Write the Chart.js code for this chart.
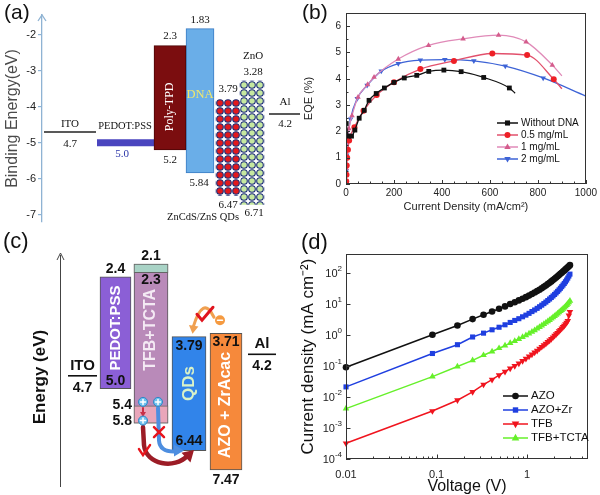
<!DOCTYPE html>
<html>
<head>
<meta charset="utf-8">
<title>Device energy levels, EQE and J-V</title>
<script src="https://cdn.jsdelivr.net/npm/chart.js@4.4.0/dist/chart.umd.min.js"></script>
<style>
html, body { margin: 0; padding: 0; background: #fff; }
#fig { position: relative; width: 600px; height: 495px; overflow: hidden; background: #fff; }
#fig canvas { position: absolute; }
</style>
</head>
<body>
<div id="fig">
  <canvas id="chartA" width="300" height="240" style="left:0;top:0"></canvas>
  <canvas id="chartB" width="300" height="240" style="left:300px;top:0"></canvas>
  <canvas id="chartC" width="300" height="270" style="left:0;top:225px"></canvas>
  <canvas id="chartD" width="300" height="270" style="left:300px;top:225px"></canvas>
</div>
<script>
var SANS = "'Liberation Sans', Arial, sans-serif";
var SERIF = "'Liberation Serif', 'Times New Roman', serif";
Chart.defaults.font.family = SANS;
Chart.defaults.color = '#222';

// (a) binding energies (eV)
var aBarNames = ['Poly-TPD', 'DNA', 'ZnCdS/ZnS QDs', 'ZnO'];
var aBarLumo = [2.3, 1.83, 3.79, 3.28];
var aBarHomo = [5.2, 5.84, 6.47, 6.71];
var aLineNames = ['ITO', 'PEDOT:PSS', 'Al'];
var aLineLevel = [4.7, 5.0, 4.2];

// (b) EQE (%) vs current density (mA/cm2)
var bNames = ['Without DNA', '0.5 mg/mL', '1 mg/mL', '2 mg/mL'];
var bNoDnaX = [1, 10, 23, 37, 55, 76, 96, 126, 160, 200, 243, 295, 345, 408, 480, 574, 681, 705];
var bNoDnaY = [2.3, 1.82, 1.82, 2.05, 2.5, 2.8, 3.18, 3.44, 3.65, 3.86, 4.03, 4.13, 4.28, 4.33, 4.27, 4.05, 3.65, 3.45];
var bHalfX = [1, 2, 3, 5, 8, 13, 35, 73, 128, 200, 310, 450, 610, 755, 866, 900];
var bHalfY = [0.1, 0.35, 0.7, 1.0, 1.3, 1.65, 2.16, 2.78, 3.38, 3.87, 4.37, 4.68, 4.96, 4.9, 3.98, 3.62];
var bOneX = [1, 3, 6, 12, 25, 50, 90, 117, 218, 344, 488, 636, 751, 860, 900];
var bOneY = [0.6, 1.3, 1.7, 2.1, 2.6, 3.3, 3.78, 4.06, 4.75, 5.27, 5.52, 5.66, 5.4, 4.52, 4.11];
var bTwoX = [1, 3, 6, 19, 47, 88, 147, 218, 310, 412, 533, 664, 822, 1000];
var bTwoY = [0.5, 1.1, 1.6, 2.47, 3.25, 3.75, 4.29, 4.58, 4.71, 4.73, 4.68, 4.48, 4.03, 3.34];

// (c) energy levels (eV)
var cBarNames = ['PEDOT:PSS', 'TFB+TCTA', 'QDs', 'AZO + ZrAcac'];
var cBarLumo = [2.4, 2.1, 3.79, 3.71];
var cBarHomo = [5.0, 5.8, 6.44, 7.47];
var cBlendLumo = [2.1, 2.3];
var cBlendHomo = [5.4, 5.8];
var cLineNames = ['ITO', 'Al'];
var cLineLevel = [4.7, 4.2];
var cDrawCut = 6.89; // the source draws the AZO bar cut short of 7.47

// (d) current density (mA cm-2) vs voltage (V)
var dNames = ['AZO', 'AZO+Zr', 'TFB', 'TFB+TCTA'];
var dVoltage = [0.01, 0.09, 0.17, 0.25, 0.33, 0.41, 0.49, 0.57, 0.65, 0.73, 0.81, 0.89, 0.97, 1.05, 1.13, 1.21, 1.29, 1.37, 1.45, 1.53,
  1.61, 1.69, 1.77, 1.85, 1.93, 2.01, 2.09, 2.17, 2.25, 2.33, 2.41, 2.49, 2.57, 2.65, 2.73, 2.81, 2.89, 2.97];
var dAzo = [0.09, 1.0, 2.0, 3.2, 4.4, 5.6, 6.9, 8.2, 9.8, 11.2, 12.8, 14.5, 16.3, 18.3, 20.5, 23, 25.5, 28.3, 31.5, 35,
  38.8, 43, 47.5, 52.5, 58, 64, 70, 77, 84, 92, 100, 109, 118, 128, 139, 150, 162, 175];
var dAzoZr = [0.021, 0.25, 0.48, 0.85, 1.13, 1.45, 1.75, 2.1, 2.5, 2.9, 3.3, 3.8, 4.3, 4.9, 5.6, 6.3, 7.1, 8.0, 9.0, 10.1,
  11.3, 12.7, 14.2, 15.9, 17.8, 19.9, 22.3, 25, 28, 31.5, 35.5, 40, 45, 51, 58, 67, 78, 90];
var dTfb = [0.00032, 0.0035, 0.0078, 0.0145, 0.025, 0.036, 0.05, 0.065, 0.083, 0.10, 0.12, 0.145, 0.17, 0.2, 0.235, 0.27, 0.31, 0.36, 0.41, 0.46,
  0.52, 0.59, 0.66, 0.74, 0.83, 0.93, 1.04, 1.16, 1.3, 1.45, 1.6, 1.78, 1.97, 2.2, 2.45, 2.8, 4.2, 5.5];
var dTfbTcta = [0.0042, 0.045, 0.095, 0.15, 0.22, 0.29, 0.37, 0.45, 0.54, 0.63, 0.73, 0.84, 0.96, 1.1, 1.25, 1.4, 1.58, 1.77, 1.98, 2.2,
  2.45, 2.72, 3.0, 3.3, 3.65, 4.0, 4.4, 4.8, 5.3, 5.8, 6.3, 6.9, 7.5, 8.2, 9.0, 9.9, 11, 12.5];
var dExponents = [-4, -3, -2, -1, 0, 1, 2];

// horizontal slots of the level diagrams (pixels)
var aBarSlot = [[154, 186], [186, 214], [216, 240], [240, 264]];
var aLineSlot = [[44, 96], [97, 154], [269, 300]];
var cBarSlot = [[100, 131], [134, 168], [172, 206], [210, 242]];
var cLineSlot = [[68, 97], [248, 276]];

function txt(ctx, s, x, y, font, color, align) {
  ctx.font = font;
  ctx.fillStyle = color || '#111';
  ctx.textAlign = align || 'center';
  ctx.textBaseline = 'middle';
  ctx.fillText(s, x, y);
}
function vtxt(ctx, s, x, y, font, color) {
  ctx.save();
  ctx.translate(x, y);
  ctx.rotate(-Math.PI / 2);
  txt(ctx, s, 0, 0, font, color);
  ctx.restore();
}
function mark(ctx, style, x, y, r, color, rot) {
  ctx.save();
  ctx.translate(x, y);
  ctx.rotate((rot || 0) * Math.PI / 180);
  ctx.fillStyle = color;
  ctx.beginPath();
  if (style === 'rect') ctx.rect(-r * 0.75, -r * 0.75, r * 1.5, r * 1.5);
  else if (style === 'triangle') { ctx.moveTo(0, -r * 1.1); ctx.lineTo(r, r * 0.65); ctx.lineTo(-r, r * 0.65); ctx.closePath(); }
  else ctx.arc(0, 0, r, 0, Math.PI * 2);
  ctx.fill();
  ctx.restore();
}
function legend(ctx, sets, radii, x0, x1, xt, rows, font) {
  sets.forEach(function (ds, i) {
    var y = rows[i];
    ctx.strokeStyle = ds.borderColor;
    ctx.lineWidth = 1.5;
    ctx.beginPath(); ctx.moveTo(x0, y); ctx.lineTo(x1, y); ctx.stroke();
    mark(ctx, ds.pointStyle, (x0 + x1) / 2, y, radii[i], ds.pointBackgroundColor, ds.pointRotation);
    txt(ctx, ds.label, xt, y, font, '#111', 'left');
  });
}
function arrowHead(ctx, x, y, ang, size, color) {
  ctx.save();
  ctx.translate(x, y);
  ctx.rotate(ang);
  ctx.beginPath();
  ctx.moveTo(0, 0); ctx.lineTo(-size, -size * 0.6); ctx.lineTo(-size, size * 0.6); ctx.closePath();
  ctx.fillStyle = color; ctx.fill();
  ctx.restore();
}
function dots(ctx, fill) {
  var s = 8, c = document.createElement('canvas');
  c.width = s; c.height = s;
  var g = c.getContext('2d');
  g.fillStyle = '#ffffff'; g.fillRect(0, 0, s, s);
  g.beginPath(); g.arc(s / 2, s / 2, 3.3, 0, Math.PI * 2);
  g.fillStyle = fill; g.fill();
  g.lineWidth = 1.1; g.strokeStyle = '#1d2f78'; g.stroke();
  return ctx.createPattern(c, 'repeat');
}
function logKind(v) {
  var e = Math.floor(Math.log10(v) + 1e-9), m = v / Math.pow(10, e);
  if (Math.abs(m - 1) < 1e-6) return 2;
  return Math.abs(m - Math.round(m)) < 1e-6 ? 1 : 0;
}
var baseOpts = { responsive: false, animation: false, devicePixelRatio: 1, events: [] };
function opts(extra) { return Object.assign({}, baseOpts, extra); }

// ---------------- (a) ----------------
var ctxA = document.getElementById('chartA').getContext('2d');
var aDots = [dots(ctxA, '#e3191c'), dots(ctxA, '#c6e8a0')];
var aFill = ['#7b0d0f', '#6aaee8', aDots[0], aDots[1]];
var aEdge = ['#4d0607', '#3b7cc4', null, null];
var aSets = aBarNames.map(function (n, i) {
  var s = aBarSlot[i];
  return {
    type: 'bar', label: n, grouped: false, borderSkipped: false,
    data: [{ x: (s[0] + s[1]) / 2, y: [-aBarLumo[i], -aBarHomo[i]] }],
    barThickness: s[1] - s[0], backgroundColor: aFill[i],
    borderColor: aEdge[i] || 'rgba(0,0,0,0)', borderWidth: aEdge[i] ? 1 : 0
  };
});
aLineNames.forEach(function (n, i) {
  var s = aLineSlot[i];
  aSets.push({
    type: 'line', label: n, pointRadius: 0,
    data: [{ x: s[0], y: -aLineLevel[i] }, { x: s[1], y: -aLineLevel[i] }],
    borderColor: i === 1 ? '#4a45bf' : '#222', borderWidth: i === 1 ? 7 : 1.5
  });
});

var aPlugin = {
  id: 'aDecor',
  beforeDatasetsDraw: function (chart) {
    var ys = chart.scales.y;
    aDots.forEach(function (p, k) {
      var top = Math.round(ys.getPixelForValue(-aBarLumo[k + 2]));
      p.setTransform(new DOMMatrix([1, 0, 0, 1, 0, top]));
    });
  },
  afterDraw: function (chart) {
    var ctx = chart.ctx, ys = chart.scales.y, xs = chart.scales.x, a = chart.chartArea;
    var Y = function (v) { return ys.getPixelForValue(-v); };
    var X = function (v) { return xs.getPixelForValue(v); };
    var f = '11px ' + SERIF;
    ctx.save();
    // arrow head on the energy axis
    ctx.strokeStyle = '#8fb3d3'; ctx.lineWidth = 1.3;
    ctx.beginPath();
    ctx.moveTo(a.left - 4, a.top + 6); ctx.lineTo(a.left, a.top); ctx.lineTo(a.left + 4, a.top + 6);
    ctx.stroke();
    txt(ctx, 'ITO', X(70), Y(4.7) - 8, f);
    txt(ctx, '4.7', X(70), Y(4.7) + 12, f);
    txt(ctx, 'PEDOT:PSS', X(125), Y(5.0) - 17, '10.5px ' + SERIF);
    txt(ctx, '5.0', X(122), Y(5.0) + 11, f, '#2b35a8');
    txt(ctx, '2.3', X(170), Y(2.3) - 9, f);
    txt(ctx, '5.2', X(170), Y(5.2) + 10, f);
    txt(ctx, '1.83', X(200), Y(1.83) - 9, f);
    txt(ctx, '5.84', X(199), Y(5.84) + 10, f);
    txt(ctx, '3.79', X(228), Y(3.79) - 10, f);
    txt(ctx, '6.47', X(228), Y(6.47) + 9, f);
    txt(ctx, 'ZnO', X(253), Y(3.28) - 25, f);
    txt(ctx, '3.28', X(253), Y(3.28) - 9, f);
    txt(ctx, '6.71', X(254), Y(6.71) + 9, f);
    txt(ctx, 'ZnCdS/ZnS QDs', X(203), Y(6.47) + 22, '10.5px ' + SERIF);
    txt(ctx, 'Al', X(285), Y(4.2) - 12, f);
    txt(ctx, '4.2', X(285), Y(4.2) + 10, f);
    txt(ctx, 'DNA', X(200), Y(3.67), '12.5px ' + SERIF, '#f2e86a');
    vtxt(ctx, 'Poly-TPD', X(170), Y(4.0), '12px ' + SERIF, '#ffffff');
    txt(ctx, '(a)', 4, 13, '21px ' + SANS, '#111', 'left');
    ctx.restore();
  }
};

new Chart(ctxA, {
  type: 'bar',
  data: { datasets: aSets },
  options: opts({
    layout: { padding: { top: 15, bottom: 18, left: 0, right: 0 } },
    plugins: { legend: { display: false }, tooltip: { enabled: false } },
    scales: {
      x: { type: 'linear', display: false, min: 42, max: 300, offset: false },
      y: {
        min: -7.2, max: -1.45,
        afterFit: function (s) { s.width = 42; },
        ticks: { stepSize: 1, includeBounds: false, padding: 2, color: '#222', font: { size: 11 } },
        grid: { drawOnChartArea: false, tickLength: 4, color: '#8fb3d3', lineWidth: 1.2 },
        border: { color: '#8fb3d3', width: 1.3 },
        title: { display: true, text: 'Binding Energy(eV)', color: '#4a4a4a', font: { size: 16 }, padding: { top: 3, bottom: 0 } }
      }
    }
  }),
  plugins: [aPlugin]
});

// ---------------- (b) ----------------
function bSet(label, xs, ys, line, markColor, style, rot, r) {
  return {
    label: label,
    data: xs.map(function (x, i) { return { x: x, y: ys[i] }; }),
    borderColor: line, backgroundColor: markColor,
    pointBackgroundColor: markColor, pointBorderColor: markColor, pointBorderWidth: 0,
    borderWidth: 1.3, pointStyle: style, pointRotation: rot,
    pointRadius: function (c) { return c.dataIndex === xs.length - 1 ? 0 : r; },
    cubicInterpolationMode: 'monotone', fill: false
  };
}
var bSets = [
  bSet(bNames[0], bNoDnaX, bNoDnaY, '#111111', '#111111', 'rect', 0, 3.4),
  bSet(bNames[1], bHalfX, bHalfY, '#e2506c', '#ee2026', 'circle', 0, 3),
  bSet(bNames[2], bOneX, bOneY, '#e08ab8', '#d45c8c', 'triangle', 0, 3.2),
  bSet(bNames[3], bTwoX, bTwoY, '#3d63d6', '#3d63d6', 'triangle', 180, 3.2)
];
var bPlugin = {
  id: 'bDecor',
  afterDraw: function (chart) {
    var ctx = chart.ctx, a = chart.chartArea, xs = chart.scales.x, ys = chart.scales.y;
    ctx.save();
    ctx.strokeStyle = '#333'; ctx.lineWidth = 1;
    ctx.strokeRect(Math.round(a.left) + 0.5, Math.round(a.top) + 0.5, Math.round(a.right - a.left) - 1, Math.round(a.bottom - a.top) - 1);
    ctx.beginPath();
    for (var v = 0; v <= 1000; v += 50) {
      var px = Math.round(xs.getPixelForValue(v)) + 0.5;
      ctx.moveTo(px, a.bottom); ctx.lineTo(px, a.bottom - (v % 200 === 0 ? 4 : 2.5));
    }
    for (var w = 0; w <= 6.5; w += 0.5) {
      var py = Math.round(ys.getPixelForValue(w)) + 0.5;
      ctx.moveTo(a.left, py); ctx.lineTo(a.left + (w % 1 === 0 ? 4 : 2.5), py);
    }
    ctx.stroke();
    legend(ctx, bSets, [3.4, 3, 3.2, 3.2], 197, 218, 221, [123, 135, 147, 159], '10px ' + SANS);
    txt(ctx, '(b)', 2, 13, '21px ' + SANS, '#111', 'left');
    ctx.restore();
  }
};
new Chart(document.getElementById('chartB'), {
  type: 'line',
  data: { datasets: bSets },
  options: opts({
    layout: { padding: { top: 13, right: 12, left: 0, bottom: 0 } },
    plugins: { legend: { display: false }, tooltip: { enabled: false } },
    scales: {
      x: {
        type: 'linear', min: 0, max: 1000,
        afterFit: function (s) { s.height = 56; },
        ticks: { stepSize: 200, padding: 3, maxRotation: 0, font: { size: 10 }, color: '#222',
          callback: function (v) { return String(v); } },
        grid: { display: false, drawTicks: false }, border: { display: false },
        title: { display: true, text: 'Current Density (mA/cm²)', font: { size: 11 }, color: '#222', padding: { top: 0, bottom: 26 } }
      },
      y: {
        min: 0, max: 6.5,
        afterFit: function (s) { s.width = 46; },
        ticks: { stepSize: 1, includeBounds: false, padding: 5, font: { size: 10 }, color: '#222' },
        grid: { display: false, drawTicks: false }, border: { display: false },
        title: { display: true, text: 'EQE (%)', font: { size: 11 }, color: '#222', padding: { top: 2, bottom: 0 } }
      }
    }
  }),
  plugins: [bPlugin]
});

// ---------------- (c) ----------------
var cFill = ['#8b5fd6', '#b98ab9', '#3184ea', '#f6893b'];
var cSets = cBarNames.map(function (n, i) {
  var s = cBarSlot[i];
  return {
    type: 'bar', label: n, order: 2, grouped: false, borderSkipped: false,
    data: [{ x: (s[0] + s[1]) / 2, y: [-cBarLumo[i], -Math.min(cBarHomo[i], cDrawCut)] }],
    barThickness: s[1] - s[0], backgroundColor: cFill[i], borderColor: '#555', borderWidth: 1
  };
});
var tfbSlot = cBarSlot[1];
[[cBlendLumo, '#a9d3c6'], [cBlendHomo, '#e9a6ba']].forEach(function (p) {
  cSets.push({
    type: 'bar', label: 'TFB+TCTA band', order: 1, grouped: false, borderSkipped: false,
    data: [{ x: (tfbSlot[0] + tfbSlot[1]) / 2, y: [-p[0][0], -p[0][1]] }],
    barThickness: tfbSlot[1] - tfbSlot[0], backgroundColor: p[1], borderColor: '#666', borderWidth: 1
  });
});
cLineNames.forEach(function (n, i) {
  var s = cLineSlot[i];
  cSets.push({
    type: 'line', label: n, order: 0, pointRadius: 0, borderColor: '#111', borderWidth: 1.6,
    data: [{ x: s[0], y: -cLineLevel[i] }, { x: s[1], y: -cLineLevel[i] }]
  });
});
var cPlugin = {
  id: 'cDecor',
  afterDraw: function (chart) {
    var ctx = chart.ctx, a = chart.chartArea, xs = chart.scales.x, ys = chart.scales.y;
    var Y = function (v) { return ys.getPixelForValue(-v); };
    var X = function (v) { return xs.getPixelForValue(v); };
    var nb = 'bold 14px ' + SANS;
    ctx.save();
    // energy axis arrow
    ctx.strokeStyle = '#444'; ctx.lineWidth = 1;
    ctx.beginPath(); ctx.moveTo(60.5, a.bottom); ctx.lineTo(60.5, a.top + 2); ctx.stroke();
    ctx.beginPath(); ctx.moveTo(57, a.top + 7); ctx.lineTo(60.5, a.top); ctx.lineTo(64, a.top + 7); ctx.stroke();
    vtxt(ctx, 'Energy (eV)', 40, 152, 'bold 17px ' + SANS, '#111');
    // electrodes
    txt(ctx, 'ITO', X(82.5), Y(4.7) - 10, 'bold 15px ' + SANS);
    txt(ctx, '4.7', X(82.5), Y(4.7) + 12, nb);
    txt(ctx, 'Al', X(262), Y(4.2) - 10, 'bold 15px ' + SANS);
    txt(ctx, '4.2', X(262), Y(4.2) + 12, nb);
    // level values
    txt(ctx, '2.4', X(115.5), Y(2.4) - 8, nb);
    txt(ctx, '5.0', X(115.5), Y(5.0) - 8, nb);
    txt(ctx, '2.1', X(151), Y(2.1) - 8, nb);
    txt(ctx, '2.3', X(151), Y(2.3) + 8, nb);
    txt(ctx, '5.4', X(132), Y(5.4) - 1, nb, '#111', 'right');
    txt(ctx, '5.8', X(132), Y(5.8) - 2, nb, '#111', 'right');
    txt(ctx, '3.79', X(189), Y(3.79) + 9, nb);
    txt(ctx, '6.44', X(189), Y(6.44) - 9, nb);
    txt(ctx, '3.71', X(226), Y(3.71) + 9, nb);
    txt(ctx, '7.47', X(226), Y(cDrawCut) + 10, nb);
    // layer names
    vtxt(ctx, 'PEDOT:PSS', X(115.5), Y(3.59), 'bold 15px ' + SANS, '#ffffff');
    vtxt(ctx, 'TFB+TCTA', X(151), Y(3.63), 'bold 16px ' + SANS, '#f4eaf4');
    vtxt(ctx, 'QDs', X(189), Y(4.88), 'bold 17px ' + SANS, '#d9f2c8');
    vtxt(ctx, 'AZO + ZrAcac', X(226), Y(5.38), 'bold 16px ' + SANS, '#ffffff');
    // hole transport sketch
    var y54 = Y(5.4), y58 = Y(5.8), yq = Y(6.44);
    ctx.lineCap = 'round';
    ctx.strokeStyle = '#4d8ee0'; ctx.lineWidth = 4;
    ctx.beginPath(); ctx.moveTo(158, y54 + 2); ctx.lineTo(159, yq - 10);
    ctx.quadraticCurveTo(160, yq + 1, 174, yq + 1); ctx.stroke();
    arrowHead(ctx, 184, yq, 0, 10, '#4d8ee0');
    ctx.strokeStyle = '#9c1c26'; ctx.lineWidth = 4.5;
    ctx.beginPath(); ctx.moveTo(143, y58 + 4); ctx.lineTo(144, y58 + 22);
    ctx.bezierCurveTo(146, y58 + 42, 175, y58 + 46, 187, y58 + 33); ctx.stroke();
    arrowHead(ctx, 194, y58 + 27, -0.75, 11, '#9c1c26');
    ctx.strokeStyle = '#c83048'; ctx.lineWidth = 2;
    ctx.beginPath(); ctx.moveTo(143, y54 + 2); ctx.lineTo(143, y58 - 9); ctx.stroke();
    arrowHead(ctx, 143, y58 - 6, Math.PI / 2, 5, '#c83048');
    ctx.strokeStyle = '#e8141c'; ctx.lineWidth = 2.5;
    ctx.beginPath();
    ctx.moveTo(154, y58 + 4); ctx.lineTo(164, y58 + 14);
    ctx.moveTo(164, y58 + 4); ctx.lineTo(154, y58 + 14);
    ctx.moveTo(139, y58 + 26); ctx.lineTo(143, y58 + 32); ctx.lineTo(150, y58 + 22);
    ctx.stroke();
    [[143, y54 - 4], [158, y54 - 4], [143, y58 - 2.5]].forEach(function (h) {
      ctx.beginPath(); ctx.arc(h[0], h[1], 4.5, 0, Math.PI * 2);
      ctx.fillStyle = '#6ec1ee'; ctx.fill();
      ctx.strokeStyle = '#2f86c6'; ctx.lineWidth = 1; ctx.stroke();
      ctx.strokeStyle = '#ffffff'; ctx.lineWidth = 1.5;
      ctx.beginPath(); ctx.moveTo(h[0] - 2.5, h[1]); ctx.lineTo(h[0] + 2.5, h[1]);
      ctx.moveTo(h[0], h[1] - 2.5); ctx.lineTo(h[0], h[1] + 2.5); ctx.stroke();
    });
    // electron transfer sketch
    var ye = Y(3.71) - 13;
    ctx.strokeStyle = '#f0a050'; ctx.lineWidth = 3;
    ctx.beginPath(); ctx.moveTo(214, ye - 3); ctx.quadraticCurveTo(203, ye - 26, 193, Y(3.79) - 9); ctx.stroke();
    arrowHead(ctx, 192.5, Y(3.79) - 3, Math.PI / 2 + 0.15, 8, '#f0a050');
    ctx.strokeStyle = '#e0141e'; ctx.lineWidth = 3;
    ctx.beginPath(); ctx.moveTo(197, ye - 6); ctx.lineTo(202, ye); ctx.lineTo(213, ye - 13); ctx.stroke();
    ctx.beginPath(); ctx.arc(220, ye, 5, 0, Math.PI * 2); ctx.fillStyle = '#f59a40'; ctx.fill();
    ctx.strokeStyle = '#ffffff'; ctx.lineWidth = 1.5;
    ctx.beginPath(); ctx.moveTo(217.5, ye); ctx.lineTo(222.5, ye); ctx.stroke();
    txt(ctx, '(c)', 3, 17, '22px ' + SANS, '#111', 'left');
    ctx.restore();
  }
};
new Chart(document.getElementById('chartC'), {
  type: 'bar',
  data: { datasets: cSets },
  options: opts({
    layout: { padding: { top: 28, bottom: 8, left: 0, right: 0 } },
    plugins: { legend: { display: false }, tooltip: { enabled: false } },
    scales: {
      x: { type: 'linear', display: false, min: 0, max: 300, offset: false },
      y: { display: false, min: -7.286, max: -1.844 }
    }
  }),
  plugins: [cPlugin]
});

// ---------------- (d) ----------------
function dSet(label, ys, color, style, rot, r) {
  return {
    label: label,
    data: dVoltage.map(function (v, i) { return { x: v, y: ys[i] }; }),
    borderColor: color, backgroundColor: color,
    pointBackgroundColor: color, pointBorderColor: color, pointBorderWidth: 0,
    borderWidth: 1.5, pointStyle: style, pointRotation: rot, pointRadius: r,
    fill: false, clip: false
  };
}
var dSets = [
  dSet(dNames[0], dAzo, '#111111', 'circle', 0, 3.3),
  dSet(dNames[1], dAzoZr, '#1f3fe0', 'rect', 0, 3.6),
  dSet(dNames[2], dTfb, '#f0141e', 'triangle', 180, 3.8),
  dSet(dNames[3], dTfbTcta, '#66f02a', 'triangle', 0, 3.8)
];
var dPlugin = {
  id: 'dDecor',
  afterDraw: function (chart) {
    var ctx = chart.ctx, a = chart.chartArea, xs = chart.scales.x, ys = chart.scales.y;
    ctx.save();
    ctx.strokeStyle = '#333'; ctx.lineWidth = 1;
    ctx.strokeRect(Math.round(a.left) + 0.5, Math.round(a.top) + 0.5, Math.round(a.right - a.left) - 1, Math.round(a.bottom - a.top) - 1);
    ctx.beginPath();
    xs.ticks.forEach(function (t) {
      var k = logKind(t.value);
      if (!k) return;
      var px = Math.round(xs.getPixelForValue(t.value)) + 0.5;
      ctx.moveTo(px, a.bottom); ctx.lineTo(px, a.bottom - (k === 2 ? 4.5 : 2.5));
    });
    dExponents.forEach(function (e) {
      var py = Math.round(ys.getPixelForValue(Math.pow(10, e))) + 0.5;
      ctx.moveTo(a.left, py); ctx.lineTo(a.left + 4.5, py);
    });
    ctx.stroke();
    dExponents.forEach(function (e) {
      var py = ys.getPixelForValue(Math.pow(10, e));
      var ex = String(e);
      ctx.font = '8px ' + SANS;
      var ew = ctx.measureText(ex).width;
      ctx.font = '11px ' + SANS;
      var bw = ctx.measureText('10').width;
      txt(ctx, '10', 42 - ew - bw, py + 1, '11px ' + SANS, '#222', 'left');
      txt(ctx, ex, 42 - ew, py - 4, '8px ' + SANS, '#222', 'left');
    });
    legend(ctx, dSets, [3.3, 3.6, 3.8, 3.8], 203, 228, 231, [171, 185, 199, 213], '11.5px ' + SANS);
    txt(ctx, '(d)', 1, 18, '22px ' + SANS, '#111', 'left');
    ctx.restore();
  }
};
new Chart(document.getElementById('chartD'), {
  type: 'line',
  data: { datasets: dSets },
  options: opts({
    layout: { padding: { top: 29, right: 12, left: 0, bottom: 0 } },
    plugins: { legend: { display: false }, tooltip: { enabled: false } },
    scales: {
      x: {
        type: 'logarithmic', min: 0.01, max: 4.7,
        afterFit: function (s) { s.height = 36; },
        ticks: {
          autoSkip: false, maxRotation: 0, padding: 9, font: { size: 11 }, color: '#222',
          callback: function (v) { return logKind(v) === 2 ? String(+Number(v).toPrecision(1)) : ''; }
        },
        grid: { display: false, drawTicks: false }, border: { display: false },
        title: { display: true, text: 'Voltage (V)', font: { size: 16, lineHeight: 1 }, color: '#111', padding: { top: 0, bottom: 0 } }
      },
      y: {
        type: 'logarithmic', min: 0.0001, max: 400,
        afterFit: function (s) { s.width = 46; },
        ticks: { display: false },
        grid: { display: false, drawTicks: false }, border: { display: false },
        title: { display: true, text: 'Current density (mA cm⁻²)', font: { size: 17, lineHeight: 1 }, color: '#111', padding: { top: 0, bottom: 0 } }
      }
    }
  }),
  plugins: [dPlugin]
});
</script>
</body>
</html>
